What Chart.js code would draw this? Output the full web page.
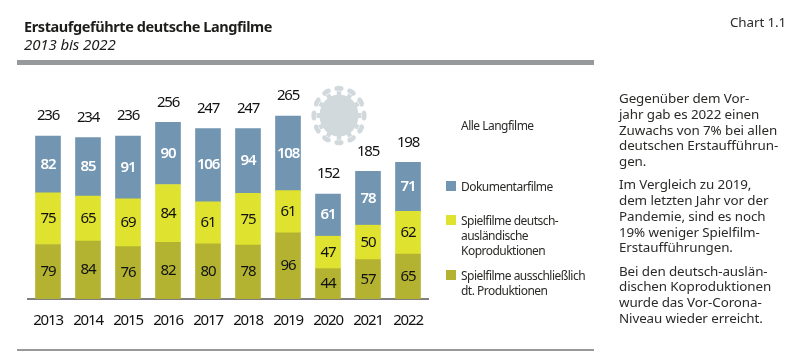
<!DOCTYPE html>
<html lang="de">
<head>
<meta charset="utf-8">
<title>Erstaufgeführte deutsche Langfilme</title>
<script src="https://cdn.jsdelivr.net/npm/chart.js@4"></script>
<style>
  html, body { margin: 0; padding: 0; background: #fff; }
  #page { position: relative; width: 800px; height: 364px; overflow: hidden; font-family: "Noto Sans", sans-serif; color: #1d1d1b; }
  #chart { position: absolute; left: 0; top: 0; }
  .txt { position: absolute; white-space: nowrap; }
  .rule { position: absolute; left: 17px; width: 577px; background: #98999b; }
  .swatch { position: absolute; left: 446px; width: 10px; height: 10px; }
  .legend { font-size: 12px; line-height: 15px; letter-spacing: -0.52px; color: #2a2a28; }
  #side { left: 619px; top: 91px; font-size: 13.4px; line-height: 15.75px; letter-spacing: -0.1px; color: #2a2a28; }
  #side p { margin: 0 0 7.6px 0; }
</style>
</head>
<body>
<div id="page">
  <canvas id="chart" width="800" height="364"></canvas>

  <div class="txt" style="left:24px;top:16px;font-size:14.5px;font-weight:700;letter-spacing:-0.41px">Erstaufgeführte deutsche Langfilme</div>
  <div class="txt" style="left:24px;top:34px;font-size:15px;font-style:italic;letter-spacing:-0.1px">2013 bis 2022</div>
  <div class="txt" style="left:730px;top:13px;font-size:13.4px;letter-spacing:-0.1px;color:#2a2a28">Chart 1.1</div>
  <div class="rule" style="top:60px;height:5px"></div>
  <div class="rule" style="top:349px;height:2px"></div>

  <svg style="position:absolute;left:310px;top:84px" width="58" height="63" viewBox="-29 -31.5 58 63">
    <g id="virus" fill="#d1d9dd" transform="scale(1 1.08)"><circle r="19.5"></circle></g>
  </svg>

  <div class="txt legend" style="left:461px;top:118px">Alle Langfilme</div>
  <div class="swatch" style="top:181px;background:#7295b2"></div>
  <div class="txt legend" style="left:461px;top:179px">Dokumentarfilme</div>
  <div class="swatch" style="top:215px;background:#dfe22f"></div>
  <div class="txt legend" style="left:461px;top:213px">Spielfilme deutsch-<br>ausländische<br>Koproduktionen</div>
  <div class="swatch" style="top:270px;background:#b3b331"></div>
  <div class="txt legend" style="left:461px;top:268px">Spielfilme ausschließlich<br>dt. Produktionen</div>

  <div class="txt" id="side">
    <p>Gegenüber dem Vor-<br>jahr gab es 2022 einen<br>Zuwachs von 7% bei allen<br>deutschen Erstaufführun-<br>gen.</p>
    <p>Im Vergleich zu 2019,<br>dem letzten Jahr vor der<br>Pandemie, sind es noch<br>19% weniger Spielfilm-<br>Erstaufführungen.</p>
    <p>Bei den deutsch-auslän-<br>dischen Koproduktionen<br>wurde das Vor-Corona-<br>Niveau wieder erreicht.</p>
  </div>
</div>

<script>
// Data
const years = ['2013', '2014', '2015', '2016', '2017', '2018', '2019', '2020', '2021', '2022'];
const rein = [79, 84, 76, 82, 80, 78, 96, 44, 57, 65];
const koproduktionen = [75, 65, 69, 84, 61, 75, 61, 47, 50, 62];
const dokumentarfilme = [82, 85, 91, 90, 106, 94, 108, 61, 78, 71];
const gesamt = [236, 234, 236, 256, 247, 247, 265, 152, 185, 198];

// Virus spikes
const virus = document.getElementById('virus');
for (let i = 0; i < 12; i++) {
  const spike = document.createElementNS('http://www.w3.org/2000/svg', 'path');
  spike.setAttribute('d', 'M-2.2 -18 H2.2 V-23 H-2.2 Z M-4.6 -25 a4.6 2.6 0 0 1 9.2 0 a4.6 2.6 0 0 1 -9.2 0 Z');
  spike.setAttribute('transform', `rotate(${i * 30})`);
  virus.appendChild(spike);
}

// Tighter digits, the original font is a narrow one
const tightDigits = {
  id: 'tightDigits',
  beforeDraw(chart) {
    chart.ctx.letterSpacing = '-1.2px';
  }
};

// Numbers on and above the bars
const barLabels = {
  id: 'barLabels',
  afterDatasetsDraw(chart) {
    const ctx = chart.ctx;
    ctx.save();
    ctx.textAlign = 'center';
    ctx.textBaseline = 'middle';
    chart.data.datasets.forEach((dataset, d) => {
      chart.getDatasetMeta(d).data.forEach((bar, i) => {
        ctx.font = (d === 2 ? '600 ' : '') + '15px "Noto Sans"';
        ctx.fillStyle = d === 2 ? '#ffffff' : '#111111';
        ctx.fillText(dataset.data[i], bar.x, (bar.y + bar.base) / 2);
        if (d === 2) {
          ctx.font = '15px "Noto Sans"';
          ctx.fillStyle = '#111111';
          ctx.fillText(gesamt[i], bar.x, bar.y - 20);
        }
      });
    });
    ctx.restore();
  }
};

new Chart(document.getElementById('chart').getContext('2d'), {
  type: 'bar',
  data: {
    labels: years,
    datasets: [
      { label: 'Spielfilme ausschließlich dt. Produktionen', data: rein, backgroundColor: '#b3b331' },
      { label: 'Spielfilme deutsch-ausländische Koproduktionen', data: koproduktionen, backgroundColor: '#dfe22f' },
      { label: 'Dokumentarfilme', data: dokumentarfilme, backgroundColor: '#7295b2' }
    ]
  },
  options: {
    responsive: false,
    animation: false,
    barThickness: 25,
    layout: { padding: { left: 28, right: 372, top: 23, bottom: 0 } },
    plugins: { legend: { display: false }, tooltip: { enabled: false } },
    scales: {
      x: {
        stacked: true,
        grid: { display: false, drawTicks: false },
        border: { color: '#7f7f7f', width: 2 },
        ticks: { color: '#111111', font: { family: '"Noto Sans"', size: 15 }, padding: 13, maxRotation: 0 },
        afterFit(scale) { scale.height = 65; }
      },
      y: {
        stacked: true,
        display: false,
        min: 0,
        max: 400
      }
    }
  },
  plugins: [tightDigits, barLabels]
});
</script>
</body>
</html>
